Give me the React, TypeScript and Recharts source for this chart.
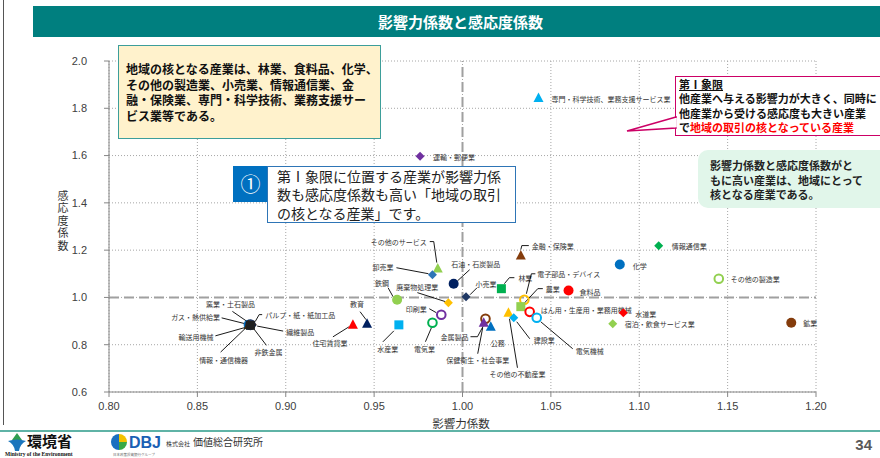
import React from "react";
import { CartesianGrid, ReferenceLine, Scatter, ScatterChart, XAxis, YAxis } from "recharts";

const JP = '"Noto Sans CJK JP", "Noto Sans", sans-serif';
const NUM = '"Liberation Sans Narrow", "Liberation Sans", Arial, sans-serif';

// industry names, influence coefficient (x), sensitivity coefficient (y)
const industries = [
  "専門・科学技術、業務支援サービス業",
  "運輸・郵便業",
  "情報通信業",
  "金融・保険業",
  "化学",
  "その他の製造業",
  "鉱業",
  "食料品",
  "水道業",
  "宿泊・飲食サービス業",
  "その他のサービス",
  "卸売業",
  "石油・石炭製品",
  "林業",
  "小売業",
  "鉄鋼",
  "廃棄物処理業",
  "印刷業",
  "電気業",
  "水産業",
  "教育",
  "住宅賃貸業",
  "金属製品",
  "保健衛生・社会事業",
  "公務",
  "電子部品・デバイス",
  "農業",
  "はん用・生産用・業務用機械",
  "電気機械",
  "その他の不動産業",
  "建設業",
  "ガス・熱供給業",
  "窯業・土石製品",
  "パルプ・紙・紙加工品",
  "繊維製品",
  "輸送用機械",
  "情報・通信機器",
  "非鉄金属"
];

const influence = [
  1.043, 0.976, 1.111, 1.033, 1.089, 1.145, 1.186, 1.06, 1.091, 1.085,
  0.986, 0.983, 0.995, 1.022, 1.002, 0.963, 0.992, 0.988, 0.983, 0.964,
  0.946, 0.938, 1.013, 1.012, 1.016, 1.035, 1.033, 1.038, 1.042, 1.026,
  1.029, 0.879, 0.88, 0.881, 0.881, 0.88, 0.879, 0.88
];

const sensitivity = [
  1.843, 1.597, 1.219, 1.177, 1.139, 1.079, 0.893, 1.029, 0.935, 0.889,
  1.122, 1.096, 1.058, 1.037, 1.003, 0.99, 0.978, 0.927, 0.893, 0.884,
  0.889, 0.884, 0.91, 0.893, 0.876, 0.99, 0.961, 0.939, 0.914, 0.935,
  0.914, 0.884, 0.886, 0.885, 0.883, 0.884, 0.883, 0.882
];

const xTicks = [0.8, 0.85, 0.9, 0.95, 1.0, 1.05, 1.1, 1.15, 1.2];
const yTicks = [0.6, 0.8, 1.0, 1.2, 1.4, 1.6, 1.8, 2.0];

const rows = industries.map((name, i) => ({ name, x: influence[i], y: sensitivity[i] }));

type Kind = "circle" | "ring" | "square" | "triangle" | "diamond";

const markerStyle: Record<string, [Kind, string]> = {
  "専門・科学技術、業務支援サービス業": ["triangle", "#00b0f0"],
  "運輸・郵便業": ["diamond", "#7030a0"],
  "情報通信業": ["diamond", "#00b050"],
  "金融・保険業": ["triangle", "#843c0c"],
  "化学": ["circle", "#0070c0"],
  "その他の製造業": ["ring", "#92d050"],
  "鉱業": ["circle", "#843c0c"],
  "食料品": ["circle", "#ff0000"],
  "水道業": ["diamond", "#ff0000"],
  "宿泊・飲食サービス業": ["diamond", "#92d050"],
  "その他のサービス": ["triangle", "#92d050"],
  "卸売業": ["diamond", "#2e75b6"],
  "石油・石炭製品": ["circle", "#002060"],
  "林業": ["square", "#00b050"],
  "小売業": ["diamond", "#1f3864"],
  "鉄鋼": ["circle", "#92d050"],
  "廃棄物処理業": ["diamond", "#ffc000"],
  "印刷業": ["ring", "#7030a0"],
  "電気業": ["ring", "#00b050"],
  "水産業": ["square", "#00b0f0"],
  "教育": ["triangle", "#002060"],
  "住宅賃貸業": ["triangle", "#ff0000"],
  "金属製品": ["ring", "#843c0c"],
  "保健衛生・社会事業": ["triangle", "#7030a0"],
  "公務": ["triangle", "#0070c0"],
  "電子部品・デバイス": ["ring", "#ffc000"],
  "農業": ["square", "#92d050"],
  "はん用・生産用・業務用機械": ["ring", "#ff0000"],
  "電気機械": ["ring", "#00b0f0"],
  "その他の不動産業": ["triangle", "#ffc000"],
  "建設業": ["diamond", "#00b0f0"],
  "ガス・熱供給業": ["circle", "#0070c0"],
  "窯業・土石製品": ["circle", "#002060"],
  "パルプ・紙・紙加工品": ["diamond", "#843c0c"],
  "繊維製品": ["diamond", "#000000"],
  "輸送用機械": ["ring", "#1f3864"],
  "情報・通信機器": ["triangle", "#3a2a10"],
  "非鉄金属": ["square", "#202020"]
};

// label offsets from the marker centre, with an optional leader line
type Lbl = { dx: number; dy: number; anchor: "start" | "middle" | "end"; line?: [number, number][] };
const labelLayout: Record<string, Lbl> = {
  "専門・科学技術、業務支援サービス業": { dx: 13, dy: 1, anchor: "start" },
  "運輸・郵便業": { dx: 13, dy: 1, anchor: "start" },
  "情報通信業": { dx: 13, dy: 0, anchor: "start" },
  "金融・保険業": { dx: 11, dy: -10, anchor: "start", line: [[8, -10], [1, -10], [0, -6]] },
  "化学": { dx: 13, dy: 1, anchor: "start" },
  "その他の製造業": { dx: 12, dy: 0, anchor: "start" },
  "鉱業": { dx: 12, dy: 0, anchor: "start" },
  "食料品": { dx: 11, dy: 1, anchor: "start" },
  "水道業": { dx: 12, dy: 1, anchor: "start" },
  "宿泊・飲食サービス業": { dx: 12, dy: 0, anchor: "start" },
  "その他のサービス": { dx: -11, dy: -27, anchor: "end", line: [[-8, -27], [-4, -27], [-1, -6]] },
  "卸売業": { dx: -39, dy: -8, anchor: "end", line: [[-36, -7], [-4, -1]] },
  "石油・石炭製品": { dx: 22, dy: -20, anchor: "middle", line: [[16, -14], [4, -3]] },
  "林業": { dx: 17, dy: -11, anchor: "start", line: [[13, -11], [8, -11], [3, -5]] },
  "小売業": { dx: 20, dy: -13, anchor: "middle", line: [[11, -9], [4, -2]] },
  "鉄鋼": { dx: -15, dy: -17, anchor: "middle", line: [[-9, -12], [-4, -3]] },
  "廃棄物処理業": { dx: -31, dy: -16, anchor: "middle", line: [[-31, -10], [-3, -1]] },
  "印刷業": { dx: -25, dy: -6, anchor: "middle", line: [[-12, -6], [-5, -2]] },
  "電気業": { dx: -8, dy: 26, anchor: "middle", line: [[-7, 19], [-1, 5]] },
  "水産業": { dx: -11, dy: 24, anchor: "middle", line: [[-16, 17], [-5, 6]] },
  "教育": { dx: -10, dy: -20, anchor: "middle", line: [[-7, -12], [-1, -4]] },
  "住宅賃貸業": { dx: -23, dy: 18, anchor: "middle", line: [[-20, 12], [-4, 2]] },
  "金属製品": { dx: -17, dy: 18, anchor: "end", line: [[-15, 18], [-8, 18], [-1, 5]] },
  "保健衛生・社会事業": { dx: -6, dy: 37, anchor: "middle", line: [[-6, 31], [-1, 5]] },
  "公務": { dx: 7, dy: 16, anchor: "middle" },
  "電子部品・デバイス": { dx: 13, dy: -26, anchor: "start", line: [[11, -26], [7, -26], [2, -6]] },
  "農業": { dx: 25, dy: -18, anchor: "start", line: [[22, -18], [17, -18], [3, -3]] },
  "はん用・生産用・業務用機械": { dx: 11, dy: -2, anchor: "start" },
  "電気機械": { dx: 39, dy: 33, anchor: "start", line: [[36, 31], [4, 4]] },
  "その他の不動産業": { dx: 9, dy: 61, anchor: "middle", line: [[9, 55], [1, 6]] },
  "建設業": { dx: 20, dy: 22, anchor: "start", line: [[16, 21], [3, 4]] },
  "ガス・熱供給業": { dx: -53, dy: -8, anchor: "middle", line: [[-27, -7], [-3, -1]] },
  "窯業・土石製品": { dx: -20, dy: -20, anchor: "middle", line: [[-18, -13], [-2, -2]] },
  "パルプ・紙・紙加工品": { dx: 13, dy: -10, anchor: "start", line: [[10, -10], [7, -10], [3, -3]] },
  "繊維製品": { dx: 34, dy: 7, anchor: "start", line: [[31, 6], [5, 1]] },
  "輸送用機械": { dx: -37, dy: 12, anchor: "end", line: [[-35, 11], [-3, 2]] },
  "情報・通信機器": { dx: -25, dy: 35, anchor: "middle", line: [[-28, 27], [-3, 3]] },
  "非鉄金属": { dx: 18, dy: 27, anchor: "middle", line: [[16, 20], [3, 3]] }
};

function drawMarker(kind: Kind, color: string, x: number, y: number) {
  switch (kind) {
    case "circle":
      return <circle cx={x} cy={y} r={5} fill={color} />;
    case "ring":
      return <circle cx={x} cy={y} r={4.3} fill="none" stroke={color} strokeWidth={2} />;
    case "square":
      return <rect x={x - 4.5} y={y - 4.5} width={9} height={9} fill={color} />;
    case "triangle":
      return <polygon points={`${x},${y - 5.5} ${x + 5},${y + 4} ${x - 5},${y + 4}`} fill={color} />;
    default:
      return <polygon points={`${x},${y - 4.5} ${x + 4.5},${y} ${x},${y + 4.5} ${x - 4.5},${y}`} fill={color} />;
  }
}

const renderMarker = (props: any) => {
  const { cx, cy, payload } = props;
  const [kind, color] = markerStyle[payload.name];
  return <g>{drawMarker(kind, color, cx, cy)}</g>;
};

const renderLabel = (props: any) => {
  const { cx, cy, payload } = props;
  const l = labelLayout[payload.name];
  return (
    <g>
      {l.line && (
        <polyline
          points={l.line.map(([a, b]) => `${cx + a},${cy + b}`).join(" ")}
          fill="none"
          stroke="#000"
          strokeWidth={0.9}
        />
      )}
      <text
        x={cx + l.dx}
        y={cy + l.dy}
        textAnchor={l.anchor}
        dominantBaseline="central"
        fontSize={7}
        fontFamily={JP}
        fill="#333"
      >
        {payload.name}
      </text>
    </g>
  );
};

const box = (s: React.CSSProperties): React.CSSProperties => ({ position: "absolute", boxSizing: "border-box", ...s });

export default function App() {
  return (
    <div style={{ position: "absolute", left: 0, top: 0, width: 880, height: 458, background: "#fff", overflow: "hidden", fontFamily: JP }}>
      <ScatterChart width={880} height={458} margin={{ top: 61, right: 64, bottom: 36, left: 59 }}>
        <CartesianGrid stroke="#a6a6a6" strokeDasharray="1 2" />
        <XAxis
          type="number"
          dataKey="x"
          domain={[0.8, 1.2]}
          ticks={xTicks}
          interval={0}
          tickFormatter={(v) => Number(v).toFixed(2)}
          tick={{ fontSize: 11, fill: "#404040", fontFamily: NUM }}
          tickSize={5}
          tickMargin={5}
          stroke="#868686"
          height={30}
        />
        <YAxis
          type="number"
          dataKey="y"
          domain={[0.6, 2.0]}
          ticks={yTicks}
          interval={0}
          tickFormatter={(v) => Number(v).toFixed(1)}
          tick={{ fontSize: 11, fill: "#404040", fontFamily: NUM }}
          tickSize={5}
          tickMargin={17}
          stroke="#868686"
          width={50}
        />
        <ReferenceLine x={1} stroke="#a0a0a0" strokeWidth={2} strokeDasharray="10 5" />
        <ReferenceLine y={1} stroke="#a0a0a0" strokeWidth={2} strokeDasharray="10 5" />
        <Scatter data={rows} isAnimationActive={false} shape={renderLabel} />
        <Scatter data={rows} isAnimationActive={false} shape={renderMarker} />
      </ScatterChart>

      {/* slide frame */}
      <div style={box({ left: 3, top: 0, width: 1, height: 425, background: "#555" })} />

      {/* title bar */}
      <div
        style={box({
          left: 33, top: 6, width: 847, height: 31, background: "#007f7f", color: "#fff",
          fontWeight: 700, fontSize: 15, lineHeight: "31px", textAlign: "center", paddingLeft: 8
        })}
      >
        影響力係数と感応度係数
      </div>

      {/* axis titles */}
      <div
        style={box({
          left: 55, top: 190, width: 16, height: 66, fontSize: 11, lineHeight: "16px", color: "#333",
          writingMode: "vertical-rl", letterSpacing: "1.5px"
        })}
      >
        感応度係数
      </div>
      <div style={box({ left: 400, top: 415, width: 122, fontSize: 11.5, lineHeight: "16px", color: "#333", textAlign: "center" })}>
        影響力係数
      </div>

      {/* top-left note */}
      <div
        style={box({
          left: 118, top: 45, width: 263, height: 94, background: "#fff2cc", border: "1.5px solid #3d9e9a",
          padding: "15px 0 0 7px", fontSize: 12, fontWeight: 700, lineHeight: "15.7px", color: "#111", whiteSpace: "nowrap"
        })}
      >
        <div>地域の核となる産業は、林業、食料品、化学、</div>
        <div>その他の製造業、小売業、情報通信業、金</div>
        <div>融・保険業、専門・科学技術、業務支援サー</div>
        <div>ビス業等である。</div>
      </div>

      {/* quadrant I callout */}
      <div
        style={box({
          left: 675, top: 76, width: 215, height: 60, background: "#fff", border: "1.5px solid #cc0066",
          padding: "0 0 0 3px", fontSize: 11, fontWeight: 700, lineHeight: "14.4px", color: "#111", whiteSpace: "nowrap"
        })}
      >
        <div style={{ textDecoration: "underline" }}>第Ⅰ象限</div>
        <div>他産業へ与える影響力が大きく、同時に</div>
        <div>他産業から受ける感応度も大きい産業</div>
        <div>
          で<span style={{ color: "#ff0000" }}>地域の取引の核となっている産業</span>
        </div>
      </div>
      <svg style={{ position: "absolute", left: 0, top: 0 }} width={880} height={458} pointerEvents="none">
        <polygon points="676,117 627,131 676,128" fill="#fff" stroke="#cc0066" strokeWidth={1.5} />
        <line x1={675.8} y1={118} x2={675.8} y2={127.3} stroke="#fff" strokeWidth={2} />
      </svg>

      {/* green note */}
      <div
        style={box({
          left: 698, top: 150, width: 200, height: 58, background: "#e1f6ea", borderRadius: 10,
          padding: "8px 0 0 12px", fontSize: 11, fontWeight: 700, lineHeight: "14.5px", color: "#222", whiteSpace: "nowrap"
        })}
      >
        <div>影響力係数と感応度係数がと</div>
        <div>もに高い産業は、地域にとって</div>
        <div>核となる産業である。</div>
      </div>

      {/* numbered callout */}
      <div
        style={box({
          left: 233, top: 166, width: 35, height: 36, background: "#0070c0", color: "#fff",
          fontSize: 20, lineHeight: "36px", textAlign: "center"
        })}
      >
        ①
      </div>
      <div
        style={box({
          left: 267, top: 166, width: 249, height: 57, background: "#fff", border: "1.5px solid #2e75b6",
          padding: "0 0 0 9px", fontSize: 14, lineHeight: "18.3px", color: "#222", whiteSpace: "nowrap"
        })}
      >
        <div>第Ⅰ象限に位置する産業が影響力係</div>
        <div>数も感応度係数も高い「地域の取引</div>
        <div>の核となる産業」です。</div>
      </div>

      {/* footer */}
      <div style={box({ left: 0, top: 430, width: 880, height: 2, background: "#5fb3a6" })} />
      <svg style={{ position: "absolute", left: 0, top: 426 }} width={880} height={32}>
        <polygon points="17,7 22,14 12,14" fill="#2f9e50" />
        <path d="M8,15 Q17,12 26,15 Q20,18 19,25 L15,25 Q14,18 8,15 Z" fill="#1b75bc" />
        <text x={27} y={21} fontSize={15} fontWeight={700} fontFamily={JP} fill="#111">環境省</text>
        <text x={5} y={30} fontSize={5.5} fontWeight={700} fontFamily="Liberation Serif, serif" fill="#111">Ministry of the Environment</text>
        <path d="M119,8 A8,8 0 0,0 119,24 Z" fill="#1a6fc0" />
        <path d="M119,8 A8,8 0 0,1 127,16 L119,16 Z" fill="#f2c100" />
        <path d="M119,16 L127,16 A8,8 0 0,1 119,24 Z" fill="#39a845" />
        <text x={129} y={22} fontSize={16} fontWeight={700} fontFamily={NUM} fill="#1a5fb4">DBJ</text>
        <text x={113} y={30} fontSize={3.5} fontFamily={JP} fill="#666">日本政策投資銀行グループ</text>
        <text x={166} y={20} fontSize={6} fontFamily={JP} fill="#333">株式会社</text>
        <text x={193} y={20} fontSize={10} fontFamily={JP} fill="#333">価値総合研究所</text>
        <text x={872} y={24} textAnchor="end" fontSize={15} fontWeight={700} fontFamily={NUM} fill="#595959">34</text>
      </svg>
    </div>
  );
}
